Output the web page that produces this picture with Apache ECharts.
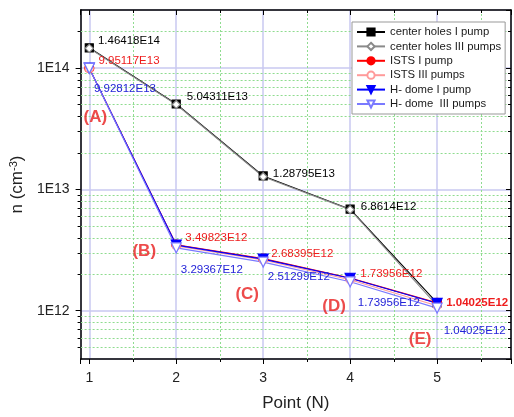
<!DOCTYPE html>
<html>
<head>
<meta charset="utf-8">
<script src="https://cdn.jsdelivr.net/npm/echarts@6/dist/echarts.min.js"></script>
<style>html,body{margin:0;padding:0;background:#fff}#c{width:514px;height:417px}</style>
</head>
<body>
<div id="c"></div>
<script>
// ---- data ----
const xPoints = [1, 2, 3, 4, 5];
const centerI   = [1.46418e14, 5.04311e13, 1.28795e13, 6.8614e12, 1.16e12];
const centerIII = [1.45e14, 5.0e13, 1.27e13, 6.8e12, 1.1e12];
const istsI     = [9.95117e13, 3.49823e12, 2.68395e12, 1.86e12, 1.16e12];
const istsIII   = [9.9e13, 3.42e12, 2.62e12, 1.8e12, 1.1e12];
const domeI     = [9.95e13, 3.47e12, 2.66e12, 1.85e12, 1.15e12];
const domeIII   = [9.92812e13, 3.29367e12, 2.51299e12, 1.73e12, 1.05e12];
const centerText = ['1.46418E14', '5.04311E13', '1.28795E13', '6.8614E12', ''];
const istsText   = ['9.95117E13', '3.49823E12', '2.68395E12', '1.73956E12', '1.04025E12'];
const domeText   = ['9.92812E13', '3.29367E12', '2.51299E12', '1.73956E12', '1.04025E12'];
const pointTags  = ['(A)', '(B)', '(C)', '(D)', '(E)'];
const seriesNames = ['center holes I pump', 'center holes III pumps', 'ISTS I pump', 'ISTS III pumps', 'H- dome I pump', 'H- dome  III pumps'];
const yMinorTicks = [5e11, 6e11, 7e11, 8e11, 9e11,
  2e12, 3e12, 4e12, 5e12, 6e12, 7e12, 8e12, 9e12,
  2e13, 3e13, 4e13, 5e13, 6e13, 7e13, 8e13, 9e13, 2e14];
const xMinorTicks = [1.5, 2.5, 3.5, 4.5, 5.5];

// ---- layout (label offsets, px) ----
const centerOff = [[4, -7], [6, -7], [5, -2], [6, -2], [0, 0]];
const istsOff   = [[4, -7], [4, -7], [3, -5], [5, -4], [4, 0]];
const domeOff   = [[-1, 21], [-1, 22], [-1, 15], [2, 21], [1, 23]];
const tagOff    = [[6, 49], [-32, 7], [-16, 36], [-16, 28], [-17, 36]];

const FONT = 'Liberation Sans, Arial, sans-serif';
const X0 = 0.9, X1 = 5.85, Y0 = 4e11, Y1 = 3e14;
const triDown = 'path://M0,0 L10,0 L5,10 Z';

function pts(vals, texts, offs, color, bold) {
  return vals.map((v, i) => {
    const d = { value: [xPoints[i], v] };
    if (texts) {
      d.label = { show: texts[i] !== '', formatter: texts[i], offset: offs[i],
                  color: color, fontWeight: (bold && i === 4) ? 'bold' : 'normal' };
    }
    return d;
  });
}

function lineSeries(name, vals, color, symbol, size, fill, texts, offs, labelColor, bold) {
  return {
    name: name, type: 'line', data: pts(vals, texts, offs, labelColor, bold),
    symbol: symbol, symbolSize: size, showSymbol: true,
    lineStyle: { color: color, width: 1.1 },
    itemStyle: { color: fill, borderColor: color, borderWidth: 1.2 },
    label: { show: false, position: 'right', distance: 0, fontFamily: FONT, fontSize: 11.5 },
    emphasis: { disabled: true }, animation: false, z: 3
  };
}

const chart = echarts.init(document.getElementById('c'), null, { renderer: 'canvas' });
const option = {
  animation: false,
  grid: { left: 78, right: 2, top: 10, bottom: 54, containLabel: false },
  legend: {
    orient: 'vertical', left: 352, top: 22,
    data: seriesNames,
    itemWidth: 28, itemHeight: 9, itemGap: 2.4,
    padding: [4, 4, 4, 4],
    borderColor: '#999', borderWidth: 1, backgroundColor: '#fff',
    textStyle: { fontFamily: FONT, fontSize: 11.3, color: '#1a1a1a', lineHeight: 12 },
    z: 10
  },
  xAxis: [{
    type: 'value', min: X0, max: X1,
    name: 'Point (N)', nameLocation: 'middle', nameGap: 36,
    nameTextStyle: { fontFamily: FONT, fontSize: 17, color: '#222' },
    axisLine: { onZero: false, lineStyle: { color: '#000', width: 1.5 } },
    axisTick: { show: true, inside: false, length: 5, lineStyle: { color: '#000' } },
    axisLabel: { fontFamily: FONT, fontSize: 14, color: '#222', margin: 12,
      formatter: v => (Math.abs(v - Math.round(v)) < 1e-9 ? String(Math.round(v)) : '') },
    splitLine: { show: true, lineStyle: { color: '#c8c8f0', width: 1.5 } }
  }, {
    type: 'value', min: X0, max: X1, position: 'top',
    axisLine: { onZero: false, lineStyle: { color: '#000', width: 1.5 } },
    axisTick: { show: true, inside: true, length: 5, lineStyle: { color: '#000' } },
    axisLabel: { show: false }, splitLine: { show: false }
  }],
  yAxis: [{
    type: 'log', logBase: 10, min: Y0, max: Y1,
    name: 'n (cm{sup|-3})', nameLocation: 'middle', nameGap: 50, nameRotate: 90,
    nameTextStyle: { fontFamily: FONT, fontSize: 17, color: '#222',
      rich: { sup: { fontFamily: FONT, fontSize: 11, color: '#222', verticalAlign: 'top', padding: [0, 0, 8, 0] } } },
    axisLine: { onZero: false, lineStyle: { color: '#000', width: 1.5 } },
    axisTick: { show: true, inside: false, length: 5, lineStyle: { color: '#000' } },
    axisLabel: { fontFamily: FONT, fontSize: 14, color: '#222', margin: 11,
      showMinLabel: false, showMaxLabel: false,
      formatter: v => { const e = Math.log10(v); return Math.abs(e - Math.round(e)) < 1e-6 ? '1E' + Math.round(e) : ''; } },
    splitLine: { show: true, lineStyle: { color: '#c8c8f0', width: 1.5 } }
  }, {
    type: 'log', logBase: 10, min: Y0, max: Y1, position: 'right',
    axisLine: { onZero: false, lineStyle: { color: '#000', width: 1.5 } },
    axisTick: { show: true, inside: true, length: 5, lineStyle: { color: '#000' } },
    axisLabel: { show: false }, splitLine: { show: false }
  }],
  series: [
    {
      type: 'custom', name: 'yMinor', silent: true, z: 1,
      data: yMinorTicks.map(v => [1, v]),
      renderItem: (params, api) => {
        const p = api.coord([1, api.value(1)]);
        const cs = params.coordSys;
        const y = Math.round(p[1]) + 0.5;
        return { type: 'group', children: [
          { type: 'line', shape: { x1: cs.x, y1: y, x2: cs.x + cs.width, y2: y },
            style: { stroke: '#8fdc8f', lineWidth: 1, lineDash: [2, 2] } },
          { type: 'line', shape: { x1: cs.x - 3, y1: y, x2: cs.x, y2: y }, style: { stroke: '#000', lineWidth: 1 } },
          { type: 'line', shape: { x1: cs.x + cs.width - 3, y1: y, x2: cs.x + cs.width, y2: y }, style: { stroke: '#000', lineWidth: 1 } }
        ] };
      }
    },
    {
      type: 'custom', name: 'xMinor', silent: true, z: 1,
      data: xMinorTicks.map(v => [v, 1e13]),
      renderItem: (params, api) => {
        const p = api.coord([api.value(0), 1e13]);
        const cs = params.coordSys;
        const x = Math.round(p[0]) + 0.5;
        return { type: 'group', children: [
          { type: 'line', shape: { x1: x, y1: cs.y, x2: x, y2: cs.y + cs.height },
            style: { stroke: '#8fdc8f', lineWidth: 1, lineDash: [2, 2] } },
          { type: 'line', shape: { x1: x, y1: cs.y + cs.height, x2: x, y2: cs.y + cs.height + 3 }, style: { stroke: '#000', lineWidth: 1 } },
          { type: 'line', shape: { x1: x, y1: cs.y, x2: x, y2: cs.y + 3 }, style: { stroke: '#000', lineWidth: 1 } }
        ] };
      }
    },
    lineSeries(seriesNames[0], centerI, '#000000', 'rect', 8, '#000000', centerText, centerOff, '#000000', false),
    lineSeries(seriesNames[1], centerIII, '#8a8a8a', 'diamond', 8, '#ffffff', null),
    lineSeries(seriesNames[2], istsI, '#ff0000', 'circle', 9, '#ff0000', istsText, istsOff, '#ee1c1c', true),
    lineSeries(seriesNames[3], istsIII, '#ff9a9a', 'circle', 8, '#ffffff', null),
    lineSeries(seriesNames[4], domeI, '#0000ff', triDown, 10, '#0000ff', null),
    lineSeries(seriesNames[5], domeIII, '#7a7aff', triDown, 10, '#ffffff', domeText, domeOff, '#2323d8', false),
    {
      type: 'scatter', name: 'tags', symbolSize: 1, silent: true, z: 4,
      itemStyle: { color: 'rgba(0,0,0,0)' },
      data: istsI.map((v, i) => ({ value: [xPoints[i], v],
        label: { show: true, formatter: pointTags[i], offset: tagOff[i] } })),
      label: { position: 'inside', fontFamily: FONT, fontSize: 17, fontWeight: 'bold', color: '#e81e1e' }
    }
  ]
};
chart.setOption(option);
</script>
</body>
</html>
